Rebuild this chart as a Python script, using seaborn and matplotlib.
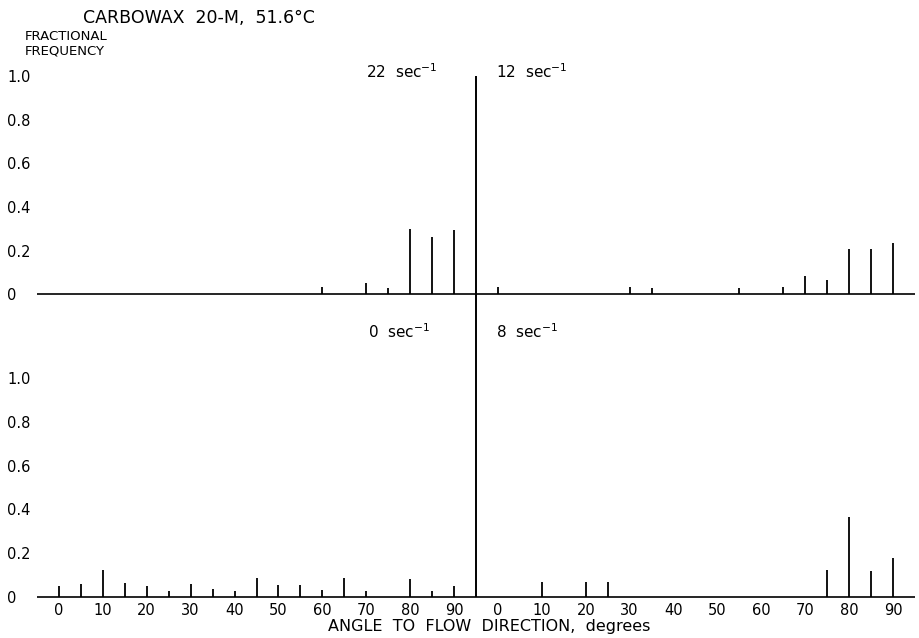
import seaborn as sns
import matplotlib.pyplot as plt

# fractional frequency vs angle to flow direction, four shear rates
angles_22 = [60, 70, 75, 80, 85, 90]
freq_22 = [0.033, 0.05, 0.03, 0.30, 0.26, 0.295]

angles_12 = [0, 30, 35, 55, 65, 70, 75, 80, 85, 90]
freq_12 = [0.035, 0.035, 0.03, 0.03, 0.033, 0.085, 0.065, 0.205, 0.205, 0.236]

angles_0 = [0, 5, 10, 15, 20, 25, 30, 35, 40, 45, 50, 55, 60, 65, 70, 80, 85, 90]
freq_0 = [0.052, 0.059, 0.121, 0.062, 0.052, 0.029, 0.059, 0.036, 0.029,
          0.089, 0.055, 0.056, 0.032, 0.086, 0.026, 0.082, 0.026, 0.048]

angles_8 = [10, 20, 25, 75, 80, 85, 90]
freq_8 = [0.07, 0.068, 0.067, 0.124, 0.365, 0.118, 0.18]

tick_angles = [0, 10, 20, 30, 40, 50, 60, 70, 80, 90]
y_ticks = [0, 0.2, 0.4, 0.6, 0.8, 1.0]
y_labels = ['0', '0.2', '0.4', '0.6', '0.8', '1.0']

SHIFT = 100   # right-hand panels sit 100 degrees further along the shared x axis
DIVIDER = 95

sns.set_style("white")
plt.rcParams['font.family'] = ['DejaVu Sans']
plt.rcParams.update({'text.color': 'black', 'axes.labelcolor': 'black',
                     'xtick.color': 'black', 'ytick.color': 'black'})

W, H = 919, 638
fig = plt.figure(figsize=(W / 100, H / 100), dpi=100)
ax_top = fig.add_axes([37 / W, 1 - 316 / H, 878 / W, 256 / H])
ax_bot = fig.add_axes([37 / W, 1 - 600 / H, 878 / W, 284 / H], sharex=ax_top)

ax_top.set_ylim(-0.1, 1.073)
ax_bot.set_ylim(-0.0137, 1.283)
ax_top.set_xlim(-5, 195)

spike = dict(color='black', lw=1.3)
ax_top.vlines(angles_22, 0, freq_22, **spike)
ax_top.vlines([a + SHIFT for a in angles_12], 0, freq_12, **spike)
ax_bot.vlines(angles_0, 0, freq_0, **spike)
ax_bot.vlines([a + SHIFT for a in angles_8], 0, freq_8, **spike)

for ax in (ax_top, ax_bot):
    ax.axhline(0, color='black', lw=1.2)
    sns.despine(ax=ax, left=True, bottom=True)
    ax.set_yticks(y_ticks)
    ax.set_yticklabels(y_labels, fontsize=10.5)
    for lab in ax.get_yticklabels():
        lab.set_horizontalalignment('left')
    ax.tick_params(axis='y', length=0, pad=21.6)
    ax.patch.set_alpha(0)

ax_top.vlines(DIVIDER, -0.1, 1.0, color='black', lw=1.4)
ax_bot.vlines(DIVIDER, 0, 1.283, color='black', lw=1.4)

ax_bot.set_xticks(tick_angles + [a + SHIFT for a in tick_angles])
ax_bot.set_xticklabels([str(a) for a in tick_angles] * 2, fontsize=10.5)
ax_bot.tick_params(axis='x', length=0, pad=2.2)
ax_top.tick_params(axis='x', length=0, labelbottom=False)

ax_bot.set_xlabel('ANGLE  TO  FLOW  DIRECTION,  degrees', fontsize=11.5)
ax_bot.xaxis.set_label_coords((489.5 - 37) / 878, -(619 - 600) / 284)

ax_top.text(70, 1.02, '22  sec$^{-1}$', va='center', fontsize=11)
ax_top.text(99.5, 1.02, '12  sec$^{-1}$', va='center', fontsize=11)
ax_bot.text(70.4, 1.21, '0  sec$^{-1}$', va='center', fontsize=11)
ax_bot.text(99.5, 1.21, '8  sec$^{-1}$', va='center', fontsize=11)

fig.text(83 / W, 1 - 18 / H, 'CARBOWAX  20-M,  51.6°C', va='center', fontsize=12.5)
fig.text(25 / W, 1 - 36 / H, 'FRACTIONAL', va='center', fontsize=9.5)
fig.text(25 / W, 1 - 50.5 / H, 'FREQUENCY', va='center', fontsize=9.5)

fig.savefig('out.png', dpi=100)
